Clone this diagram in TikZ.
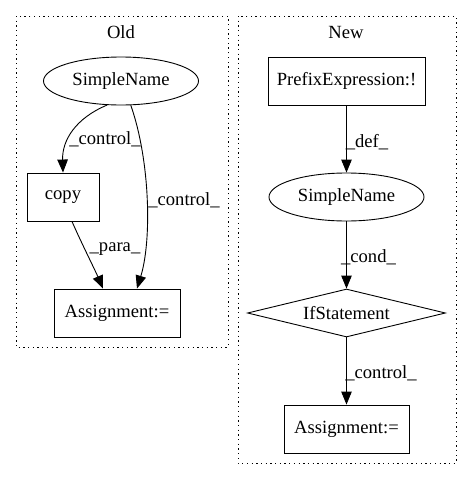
\documentclass[tikz,border=0pt]{standalone}
\usepackage{fontspec}
\setmainfont{Liberation Serif}
\usetikzlibrary{shapes.geometric,arrows.meta}
\tikzset{
  every node/.style={font=\fontsize{18.6}{21}\selectfont},
  boxnode/.style={draw,line width=0.9pt,rectangle,minimum height=48pt,inner sep=0pt},
  ellnode/.style={draw,line width=0.9pt,ellipse,minimum width=155pt,minimum height=48pt,inner sep=0pt},
  dianode/.style={draw,line width=0.9pt,diamond,aspect=4.1,minimum width=198pt,minimum height=48pt,inner sep=0pt},
  cluster/.style={draw,line width=1pt,dash pattern=on 1.3pt off 3.4pt},
  edge/.style={draw,line width=0.9pt,-{Triangle[length=13pt,width=10.5pt]}},
  elabel/.style={inner sep=0pt}
}
\begin{document}
\begin{tikzpicture}[x=1pt,y=-1pt]
\useasboundingbox (0,0) rectangle (472,480);
% clusters
\draw[cluster] (16,16) rectangle (228,347);
\draw[cluster] (238,16) rectangle (456,463);
\node (oldt) at (121,32) {Old};
\node (newt) at (346,32) {New};
% old nodes
\node[ellnode] (os) at (121,81) {SimpleName};
\node[boxnode,minimum width=72pt] (oc) at (63,197) {copy};
\node[boxnode,minimum width=126pt] (oa) at (117,313) {Assignment:=};
% new nodes
\node[boxnode,minimum width=157pt] (np) at (346.5,81) {PrefixExpression:!};
\node[ellnode] (ns) at (346.5,197) {SimpleName};
\node[dianode] (ni) at (346.5,313) {IfStatement};
\node[boxnode,minimum width=125pt] (na) at (346.5,429) {Assignment:=};
% old edges
\draw[edge] (os.240) .. controls (76,118) and (62,140) .. (oc.north);
\draw[edge] (os.292) .. controls (150,160) and (152,240) .. (oa.north -| 137,0);
\draw[edge] (oc.south -| 72,0) .. controls (80,240) and (95,270) .. (oa.north -| 103,0);
\node[elabel] (l1) at (105,139) {\_control\_};
\node[elabel] (l2) at (184,200) {\_control\_};
\node[elabel] (l3) at (115,249) {\_para\_};
% new edges
\draw[edge] (np.south) -- (ns.north);
\draw[edge] (ns.south) -- (ni.north);
\draw[edge] (ni.south) -- (na.north);
\node[elabel] (l4) at (367,142) {\_def\_};
\node[elabel] (l5) at (368.5,257) {\_cond\_};
\node[elabel] (l6) at (381,373) {\_control\_};
\end{tikzpicture}
\end{document}
